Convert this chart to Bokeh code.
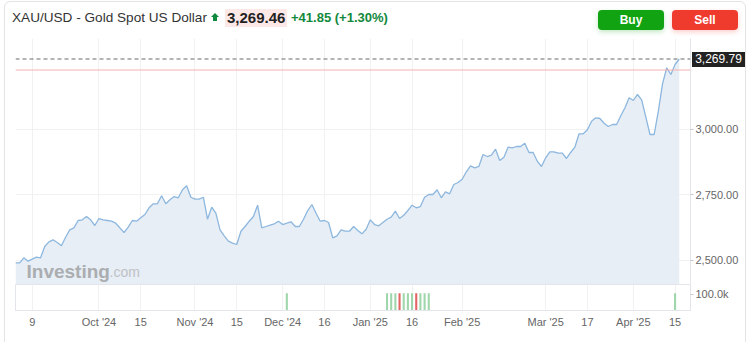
import pandas as pd
from bokeh.plotting import figure
from bokeh.models import Range1d, FixedTicker, Span, Label, Div, Grid, NumeralTickFormatter
from bokeh.layouts import column
from bokeh.embed import file_html
from bokeh.resources import INLINE

# ---------------- data ----------------
title = "XAU/USD - Gold Spot US Dollar"
last_quote = "3,269.46"
change_text = "+41.85 (+1.30%)"
prev_close = 3227.61

start_date = "2024-09-03"
end_date = "2025-04-16"
holidays = ["2024-12-25", "2025-01-01"]

prices = [
    2489.7, 2489.7, 2508.9, 2495.9, 2503.5, 2511.2, 2508.9, 2552.1, 2570.1, 2577.8,
    2567.4, 2554.8, 2587.7, 2616.1, 2623.7, 2651.7, 2654.3, 2667.0, 2654.3, 2632.5,
    2659.3, 2654.3, 2651.7, 2649.0, 2641.3, 2623.7, 2605.7, 2626.0, 2651.7, 2649.0,
    2662.0, 2674.6, 2700.3,
    2715.6, 2715.6, 2746.2, 2715.6, 2730.9, 2743.5, 2738.5, 2769.2, 2784.5, 2740.8,
    2733.2, 2733.2, 2740.8, 2656.6, 2702.6, 2679.6, 2616.1, 2593.1, 2572.4, 2564.8,
    2559.8, 2610.7, 2628.7, 2649.0, 2667.0, 2710.2, 2623.7, 2628.7, 2633.7, 2639.0,
    2649.0, 2636.3, 2641.3, 2646.7,
    2628.7, 2628.7, 2656.6, 2689.9, 2712.9, 2679.6, 2649.0, 2651.7, 2644.0, 2585.4,
    2593.1, 2616.1, 2610.7, 2610.7, 2628.7, 2613.4, 2600.7, 2618.3, 2654.3, 2636.3,
    2631.4, 2644.0, 2656.6, 2664.3, 2687.3, 2659.3, 2671.9, 2689.9, 2710.2, 2700.3,
    2705.2, 2740.8, 2751.2,
    2751.2, 2769.2, 2738.5, 2761.5, 2753.9, 2789.5, 2797.1, 2809.7, 2838.1, 2861.0,
    2853.4, 2858.4, 2904.3, 2896.6, 2901.6, 2924.6, 2881.3, 2894.0, 2932.2, 2929.9,
    2934.9, 2934.9, 2947.6, 2912.0, 2912.0, 2878.7, 2858.4, 2891.7, 2914.6, 2914.6,
    2909.3, 2909.3, 2889.0, 2912.0,
    2932.2, 2983.5, 2983.5, 2998.9, 3031.8, 3044.8, 3042.1, 3024.1, 3011.5, 3019.1,
    3019.1, 3052.4, 3083.1, 3121.3, 3111.0, 3134.0, 3113.7, 3047.1, 2980.9, 2980.9,
    3070.1, 3174.9, 3236.2, 3210.5, 3248.8, 3269.79,
]

vol_dates = ["2024-12-03", "2025-01-08", "2025-01-09", "2025-01-10", "2025-01-13",
             "2025-01-14", "2025-01-15", "2025-01-16", "2025-01-17", "2025-01-20",
             "2025-01-21", "2025-01-22", "2025-04-15"]
vol_values = [105000] * 13
vol_up = [True, True, True, True, False, True, True, True, False, True, True, True, True]

tick_dates = ["2024-09-09", "2024-10-01", "2024-10-15", "2024-11-01", "2024-11-15",
              "2024-12-02", "2024-12-16", "2025-01-02", "2025-01-16", "2025-02-03",
              "2025-03-03", "2025-03-17", "2025-04-01", "2025-04-15"]
tick_labels = ["9", "Oct '24", "15", "Nov '24", "15", "Dec '24", "16", "Jan '25",
               "16", "Feb '25", "Mar '25", "17", "Apr '25", "15"]

price_ticks = [2500, 2750, 3000]
vol_ticks = [100000]
vol_tick_labels = ["100.0k"]

# ---------------- derived ----------------
dates = [d.strftime("%Y-%m-%d") for d in pd.bdate_range(start_date, end_date)
         if d.strftime("%Y-%m-%d") not in holidays]
pos = {d: i for i, d in enumerate(dates)}
xs = list(range(len(dates)))
tick_pos = [pos[d] for d in tick_dates]
last_price = prices[-1]

FONT = "Liberation Sans"
GRID = "#f1f1f1"
EDGE = "#e2e6eb"

y_lo, y_hi = 2406.7, 3348.3
xr = Range1d(0, 161.7)

# page position of the last-price tag (price frame spans page y 38..284)
tag_top = round(38 + (y_hi - last_price) / (y_hi - y_lo) * 246 - 7)

# ---------------- header ----------------
header_html = f"""
<div style="position:relative;width:750px;height:38px;font-family:'{FONT}',Arial,sans-serif;">
<div style="position:absolute;left:4px;top:1px;width:742px;height:360px;border:1px solid #e4e4e4;border-radius:6px;pointer-events:none;z-index:20"></div>
<span style="position:absolute;left:12px;top:10px;font-size:13.6px;line-height:16px;color:#333;white-space:nowrap">{title}</span>
<span style="position:absolute;left:211px;top:13px;width:0;height:0;border-left:4px solid transparent;border-right:4px solid transparent;border-bottom:4px solid #0e8a3e"></span>
<span style="position:absolute;left:213px;top:17px;width:4px;height:4px;background:#0e8a3e"></span>
<span style="position:absolute;left:225px;top:9px;height:18px;padding:0 2px;background:#fde8e8;font-size:15px;font-weight:bold;line-height:18px;color:#222;white-space:nowrap">{last_quote}</span>
<span style="position:absolute;left:291px;top:10px;font-size:13px;font-weight:bold;line-height:16px;color:#13893d;white-space:nowrap">{change_text}</span>
<div style="position:absolute;left:598px;top:10px;width:66px;height:20px;border-radius:4px;background:#12a312;color:#fff;font-weight:bold;font-size:12px;line-height:20px;text-align:center;box-shadow:0 2px 5px rgba(18,163,18,0.25)">Buy</div>
<div style="position:absolute;left:672px;top:10px;width:66px;height:20px;border-radius:4px;background:#ef3a2e;color:#fff;font-weight:bold;font-size:12px;line-height:20px;text-align:center;box-shadow:0 2px 5px rgba(239,58,46,0.25)">Sell</div>
<div style="position:absolute;left:692px;top:{tag_top}px;width:53px;height:15px;background:#222;color:#fff;font-size:12px;line-height:15px;text-align:center;white-space:nowrap;z-index:20">{last_price:,.2f}</div>
</div>
"""
header = Div(text=header_html, width=750, height=38, margin=0,
             styles={"overflow": "visible", "z-index": "10"})

# ---------------- price figure ----------------
p = figure(width=750, height=246, x_range=xr, y_range=Range1d(y_lo, y_hi),
           output_backend="svg", toolbar_location=None,
           x_axis_location=None, y_axis_location="right",
           min_border_left=15, min_border_right=60, min_border_top=0, min_border_bottom=0)
p.outline_line_color = None
p.background_fill_color = "white"
p.border_fill_color = None
p.xgrid.grid_line_color = None
p.ygrid.grid_line_color = None
p.add_layout(Grid(dimension=0, ticker=FixedTicker(ticks=tick_pos), grid_line_color=GRID))
p.add_layout(Grid(dimension=1, ticker=FixedTicker(ticks=price_ticks), grid_line_color=GRID))

ya = p.yaxis[0]
ya.ticker = FixedTicker(ticks=price_ticks)
ya.formatter = NumeralTickFormatter(format="0,0.00")
ya.axis_line_color = EDGE
ya.major_tick_line_color = "#c8c8c8"
ya.major_tick_out = 3
ya.major_tick_in = 0
ya.minor_tick_line_color = None
ya.major_label_standoff = 2
ya.major_label_text_font = FONT
ya.major_label_text_font_size = "11px"
ya.major_label_text_color = "#666666"

p.varea(x=xs, y1=y_lo, y2=prices, fill_color="#e4ecf5", fill_alpha=0.9)
p.line(x=xs, y=prices, line_color="#8db7de", line_width=1.3)

p.add_layout(Span(location=prev_close, dimension="width", line_color="#f5b0b0", line_width=1))
p.add_layout(Span(location=last_price, dimension="width", line_color="#6b6b6b",
                  line_width=1, line_dash="4 3"))

p.add_layout(Label(x=11, y=13, x_units="screen", y_units="screen", text="Investing",
                   text_font=FONT, text_font_style="bold", text_font_size="19px",
                   text_color="#abadb0", text_baseline="alphabetic"))
p.add_layout(Label(x=94, y=13, x_units="screen", y_units="screen", text=".com",
                   text_font=FONT, text_font_size="14px",
                   text_color="#bfc1c4", text_baseline="alphabetic"))

# ---------------- volume figure ----------------
v = figure(width=750, height=58, x_range=xr, y_range=Range1d(0, 157576),
           output_backend="svg", toolbar_location=None,
           x_axis_location="below", y_axis_location="right",
           min_border_left=15, min_border_right=60, min_border_top=0, min_border_bottom=32)
v.outline_line_color = EDGE
v.border_fill_color = None
v.xgrid.grid_line_color = None
v.ygrid.grid_line_color = None
v.add_layout(Grid(dimension=0, ticker=FixedTicker(ticks=tick_pos), grid_line_color=GRID))

vx = [pos[d] for d in vol_dates]
vcol = ["#9fd6ab" if u else "#e36464" for u in vol_up]
v.vbar(x=vx, top=vol_values, width=0.5, fill_color=vcol, line_color=None)

xa = v.xaxis[0]
xa.ticker = FixedTicker(ticks=tick_pos)
xa.major_label_overrides = {t: l for t, l in zip(tick_pos, tick_labels)}
xa.axis_line_color = EDGE
xa.major_tick_line_color = None
xa.major_tick_out = 0
xa.major_tick_in = 0
xa.minor_tick_line_color = None
xa.major_label_standoff = 5
xa.major_label_text_font = FONT
xa.major_label_text_font_size = "11px"
xa.major_label_text_color = "#666666"

va = v.yaxis[0]
va.ticker = FixedTicker(ticks=vol_ticks)
va.major_label_overrides = {t: l for t, l in zip(vol_ticks, vol_tick_labels)}
va.axis_line_color = EDGE
va.major_tick_line_color = "#c8c8c8"
va.major_tick_out = 3
va.major_tick_in = 0
va.minor_tick_line_color = None
va.major_label_standoff = 2
va.major_label_text_font = FONT
va.major_label_text_font_size = "11px"
va.major_label_text_color = "#666666"

layout = column(header, p, v, spacing=0)
open("out.html", "w").write(file_html(layout, INLINE))
